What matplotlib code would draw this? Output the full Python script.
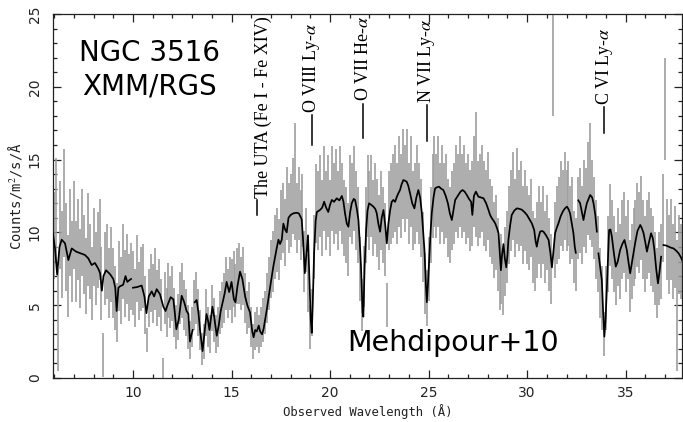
import numpy as np
import matplotlib
matplotlib.use('Agg')
import matplotlib.pyplot as plt
from matplotlib.ticker import MultipleLocator

plt.rcParams['mathtext.fontset'] = 'stix'

# ---------------- data ----------------
# observed spectrum, 0.1 A bins from 6.0 to 38.0 A
data_wl_start, data_wl_stop, data_wl_step = 6.0, 38.0, 0.1
data_flux = [
    9.8, 11.5, 4.0, 10.5, 8.5, 12.0, 9.0, 7.0, 10.0, 8.0,       # 6
    10.5, 8.0, 9.5, 7.5, 10.0, 8.5, 7.0, 9.5, 8.0, 6.5,         # 7
    9.0, 7.5, 8.8, 9.5, 6.5, 1.6, 7.5, 8.0, 6.5, 7.8,           # 8
    6.5, 5.5, 4.5, 7.0, 6.0, 8.0, 6.5, 7.5, 6.2, 7.0,           # 9
    6.5, 5.5, 7.5, 6.0, 6.8, 7.0, 5.0, 2.6, 5.5, 6.5,           # 10
    5.8, 6.8, 5.5, 6.2, 5.0, 0.7, 5.5, 4.5, 6.0, 5.2,           # 11
    5.8, 4.5, 3.5, 4.2, 5.5, 6.0, 5.0, 4.5, 3.5, 2.6,           # 12
    3.5, 5.0, 5.5, 4.5, 3.3, 2.0, 2.5, 4.5, 3.5, 3.0,           # 13
    4.8, 4.0, 3.0, 3.5, 4.5, 5.0, 5.5, 6.5, 5.8, 6.5,           # 14
    6.0, 6.8, 6.0, 7.0, 7.2, 6.5, 7.0, 5.5, 4.5, 5.0,           # 15
    3.5, 2.5, 3.2, 3.5, 3.0, 3.5, 4.0, 4.5, 5.5, 6.5,           # 16
    7.5, 8.0, 9.0, 9.5, 8.8, 10.5, 11.0, 10.0, 12.0, 11.0,      # 17
    11.5, 12.5, 13.5, 11.0, 12.0, 10.5, 11.5, 8.0, 9.5, 6.5,    # 18
    3.5, 4.5, 9.0, 12.0, 11.5, 12.5, 11.0, 13.0, 11.5, 12.5,    # 19
    11.0, 13.0, 12.0, 12.8, 11.5, 13.0, 12.0, 11.0, 10.5, 9.5,  # 20
    12.5, 12.0, 13.0, 11.5, 10.5, 7.5, 5.0, 7.0, 10.5, 12.5,    # 21
    11.5, 12.5, 11.0, 12.0, 11.0, 10.0, 11.5, 10.5, 9.5, 5.0,   # 22
    11.5, 12.0, 12.5, 13.0, 12.0, 13.5, 12.5, 14.0, 13.0, 14.0, # 23
    12.0, 13.5, 11.5, 12.0, 13.0, 12.0, 11.0, 9.0, 6.5, 5.5,    # 24
    7.5, 10.5, 12.5, 13.5, 12.5, 13.5, 12.0, 13.0, 12.0, 12.5,  # 25
    11.0, 10.5, 11.5, 12.0, 13.0, 12.5, 13.5, 12.5, 13.0, 12.0, # 26
    12.5, 11.5, 12.0, 13.5, 14.0, 12.0, 12.5, 13.0, 12.0, 11.5, # 27
    12.5, 11.0, 10.5, 9.5, 10.0, 8.5, 7.0, 7.5, 6.5, 8.0,       # 28
    9.0, 10.5, 11.5, 12.5, 11.0, 12.5, 11.5, 12.0, 10.5, 11.5,  # 29
    10.5, 10.0, 11.0, 9.0, 8.5, 9.5, 10.5, 9.5, 10.5, 9.0,      # 30
    10.0, 8.5, 7.5, 23.5, 9.5, 10.5, 11.0, 12.0, 11.5, 12.5,    # 31
    11.5, 12.0, 10.5, 11.0, 9.0, 8.5, 11.0, 11.5, 10.5, 12.0,   # 32
    11.5, 13.0, 13.5, 12.0, 11.0, 9.5, 8.5, 6.5, 5.5, 3.0,      # 33
    5.5, 8.5, 10.5, 9.5, 8.5, 7.5, 9.0, 8.0, 9.5, 10.0,         # 34
    8.5, 9.5, 7.0, 8.0, 9.0, 9.5, 10.5, 10.0, 11.0, 9.5,        # 35
    8.5, 9.5, 10.0, 9.0, 8.5, 7.5, 6.5, 7.5, 8.0, 11.0,         # 36
    18.5, 9.5, 8.5, 9.5, 8.0, 9.0, 5.0, 8.5, 8.0, 9.0,          # 37
    8.5,                                                        # 38
]
data_err = [
    3.0, 3.6, 3.5, 3.0, 3.0, 3.7, 3.0, 2.8, 3.0, 2.8,
    3.0, 2.8, 2.8, 2.7, 3.0, 2.7, 2.6, 3.2, 2.6, 2.5,
    2.7, 2.5, 2.6, 2.8, 2.5, 1.5, 2.5, 2.6, 2.4, 2.6,
    2.4, 2.2, 2.0, 2.4, 2.3, 2.6, 2.3, 2.4, 2.3, 2.3,
    2.2, 2.0, 2.3, 2.0, 2.2, 2.2, 2.0, 0.8, 2.0, 2.0,
    2.0, 2.1, 1.9, 2.0, 1.8, 0.7, 1.8, 1.7, 1.9, 1.8,
    1.9, 1.7, 1.5, 1.6, 1.8, 1.9, 1.7, 1.6, 1.5, 1.3,
    1.4, 1.7, 1.8, 1.6, 1.4, 1.1, 1.2, 1.6, 1.4, 1.3,
    1.6, 1.5, 1.3, 1.4, 1.5, 1.6, 1.7, 1.8, 1.7, 1.8,
    2.2, 1.9, 1.8, 1.9, 2.1, 1.8, 2.0, 1.7, 1.5, 1.6,
    1.4, 1.2, 1.3, 1.4, 1.3, 1.4, 1.5, 1.5, 1.7, 1.8,
    2.0, 2.1, 2.2, 2.2, 2.1, 2.4, 2.4, 2.3, 2.5, 2.4,
    2.5, 2.6, 4.0, 2.4, 2.5, 2.4, 2.5, 2.1, 2.2, 2.0,
    1.5, 1.6, 2.2, 2.7, 2.7, 2.8, 2.6, 2.9, 2.7, 2.8,
    2.6, 2.9, 2.8, 2.9, 2.7, 2.9, 2.8, 2.6, 2.6, 2.5,
    2.8, 2.8, 2.9, 2.7, 2.6, 2.2, 1.8, 2.1, 2.6, 2.8,
    2.7, 2.8, 2.6, 2.8, 2.7, 2.6, 2.7, 2.6, 2.5, 1.5,
    2.7, 2.8, 2.9, 3.0, 2.8, 3.1, 2.9, 3.1, 3.0, 3.1,
    2.8, 3.1, 2.7, 2.8, 3.0, 2.8, 2.7, 2.4, 2.1, 1.9,
    2.2, 2.6, 2.9, 3.1, 2.9, 3.1, 2.8, 3.0, 2.8, 2.9,
    2.7, 2.6, 2.7, 2.8, 3.0, 2.9, 3.1, 2.9, 3.0, 2.8,
    2.9, 2.8, 2.9, 3.1, 4.3, 2.9, 2.9, 3.0, 2.9, 2.8,
    3.0, 2.7, 2.7, 2.6, 2.6, 2.5, 2.3, 2.4, 2.2, 2.4,
    2.5, 2.7, 2.8, 3.0, 2.7, 3.3, 2.8, 2.9, 2.7, 2.8,
    2.7, 2.6, 2.7, 2.5, 2.5, 2.6, 2.7, 2.6, 2.7, 2.5,
    2.6, 2.5, 2.4, 5.5, 2.6, 2.7, 2.8, 2.9, 2.8, 3.0,
    2.8, 2.9, 2.7, 2.8, 2.5, 2.5, 2.8, 2.9, 2.7, 3.0,
    2.9, 3.2, 4.0, 3.0, 2.8, 2.7, 2.6, 2.4, 2.2, 1.5,
    2.2, 2.6, 2.8, 2.7, 2.6, 2.5, 2.7, 2.6, 2.7, 2.8,
    2.6, 2.7, 2.5, 2.6, 2.7, 2.7, 2.9, 2.8, 2.9, 2.7,
    2.6, 2.7, 2.8, 2.7, 2.6, 2.5, 2.4, 2.5, 2.6, 3.0,
    3.5, 2.8, 2.7, 2.8, 2.6, 2.8, 4.5, 2.7, 2.6, 2.8,
    2.7,
]

# best-fit model (None marks a gap in the model curve)
model_wl = [
    5.94, 6.05, 6.15, 6.27, 6.38, 6.55, 6.72, 6.89, 7.11, 7.35, 7.56, 7.73, 7.9, 8.07,
    8.24, 8.33, 8.42, 8.5, 8.63, 8.83, 9.0, 9.1, 9.17, 9.26, 9.34, 9.5, 9.62, 9.71,
    9.8, 9.9, None,
    10.0, 10.22, 10.44, 10.58, 10.68, 10.8, 10.95, 11.07, 11.2, 11.37, 11.54, 11.65,
    11.75, 11.91, 12.05, 12.12, 12.2, 12.32, 12.47, 12.6, 12.72, 12.81, 12.89, 12.97,
    13.03, None,
    13.13, 13.23, 13.32, 13.4, 13.53, 13.62, 13.73, 13.8, 13.88, 14.03, 14.12, 14.25,
    14.35, 14.45, 14.55, 14.65, 14.75, 14.88, 15.0, 15.12, 15.2, 15.3, 15.43, 15.55,
    15.69, 15.8, 15.94, 16.05, 16.12, 16.2, 16.28, 16.38, 16.45, 16.55, 16.63, 16.79,
    16.95, 17.12, 17.29, 17.38, 17.46, 17.55, 17.63, 17.72, 17.8, 17.89, 18.0, 18.14,
    18.3, 18.42, 18.56, 18.63, 18.72, 18.8, 18.88, 18.95, 19.02, 19.07, 19.12, 19.19,
    19.27, 19.33, 19.49, 19.6, 19.7, 19.8, 19.91, 20.0, 20.09, 20.2, 20.34, 20.47,
    20.6, 20.68, 20.76, 20.85, 20.93, 21.02, 21.1, 21.2, 21.27, 21.36, 21.44, 21.52,
    21.57, 21.65, 21.69, 21.75, 21.83, 21.9, 21.98, 22.08, 22.2, 22.3, 22.37, 22.45,
    22.54, 22.62, 22.71, 22.8, 22.88, 22.96, 23.05, 23.13, 23.21, 23.3, 23.39, 23.47,
    23.55, 23.63, 23.72, 23.8, 23.89, 23.97, 24.06, 24.17, 24.28, 24.38, 24.48, 24.57,
    24.66, 24.73, 24.79, 24.86, 24.91, 24.97, 25.03, 25.1, 25.16, 25.25, 25.33, 25.43,
    25.53, 25.64, 25.75, 25.87, 25.98, 26.08, 26.18, 26.27, 26.35, 26.43, 26.51, 26.62,
    26.72, 26.83, 26.94, 27.05, 27.16, 27.22, 27.3, 27.4, 27.53, 27.66, 27.79, 27.92,
    28.04, 28.12, 28.21, 28.3, 28.38, 28.47, 28.55, 28.62, 28.67, 28.73, 28.8, 28.87,
    28.94, 29.0, 29.05, 29.14, 29.22, 29.35, 29.48, 29.6, 29.73, 29.86, 29.99, 30.12,
    30.24, 30.36, 30.43, 30.49, 30.57, 30.66, 30.75, 30.83, 30.96, 31.09, 31.18, 31.26,
    31.34, 31.42, 31.5, 31.59, 31.7, 31.81, 31.92, 32.02, 32.1, 32.18, 32.27, 32.35,
    32.42, 32.47, None,
    32.6, 32.69, 32.78, 32.86, 32.95, 33.03, 33.2, 33.3, 33.37, 33.46, 33.54, None,
    33.62, 33.72, 33.79, 33.86, 33.92, 33.98, 34.05, 34.11, 34.16, 34.23, 34.3, 34.4,
    34.5, 34.6, 34.72, 34.83, 34.94, 35.06, 35.15, 35.23, 35.35, 35.48, 35.6, 35.74,
    35.82, 35.91, 36.0, 36.08, 36.18, 36.29, 36.38, 36.46, 36.55, 36.64, 36.72, 36.8,
    None,
    36.92, 37.05, 37.18, 37.3, 37.43, 37.56, 37.69, 37.8, 37.9,
]
model_flux = [
    9.9, 8.8, 7.1, 9.0, 9.5, 9.25, 8.1, 8.9, 8.68, 8.56, 8.45, 8.22, 7.76, 7.9,
    7.5, 7.2, 6.0, 7.0, 7.4, 7.14, 6.8, 6.2, 4.6, 6.2, 6.3, 6.4, 7.0, 6.6,
    6.7, 6.8, None,
    6.2, 6.25, 6.35, 5.6, 4.45, 5.6, 5.95, 5.6, 6.1, 5.75, 4.9, 4.6,
    5.0, 5.55, 5.4, 4.5, 3.35, 4.0, 5.65, 5.2, 4.6, 4.4, 2.5, 3.0,
    3.3, None,
    5.2, 5.36, 4.5, 3.3, 1.85, 3.0, 4.4, 4.0, 3.3, 4.9, 4.2, 2.9,
    3.6, 4.6, 5.2, 5.8, 6.6, 5.9, 6.6, 5.4, 5.2, 6.3, 7.3, 6.8,
    5.6, 5.0, 4.5, 3.2, 2.8, 3.3, 3.2, 3.6, 3.2, 3.0, 3.4, 4.7,
    6.16, 7.65, 8.9, 9.5, 9.2, 9.5, 10.6, 10.2, 10.0, 11.0, 11.2, 11.31,
    11.35, 11.3, 10.9, 9.5, 7.2, 8.5, 9.8, 7.0, 4.0, 3.1, 5.0, 8.6,
    10.8, 11.4, 11.54, 11.7, 12.11, 11.7, 11.4, 11.9, 12.23, 12.1, 12.34, 12.2,
    12.5, 12.1, 11.3, 10.6, 10.39, 11.4, 12.0, 12.3, 12.23, 11.6, 10.85, 9.0,
    7.65, 4.5, 4.21, 7.5, 10.16, 11.5, 12.0, 11.9, 11.77, 11.6, 11.31, 10.6,
    10.05, 11.0, 11.54, 10.5, 9.25, 10.6, 11.54, 12.1, 12.23, 12.1, 12.45, 12.7,
    12.91, 13.3, 13.6, 13.55, 13.48, 13.2, 12.68, 12.0, 11.65, 12.4, 12.91, 12.4,
    11.31, 10.0, 8.79, 6.5, 5.2, 6.5, 8.1, 10.0, 11.31, 12.4, 13.02, 13.1,
    13.14, 13.0, 12.91, 12.5, 12.0, 11.3, 10.85, 11.6, 12.23, 12.4, 12.57, 12.8,
    12.91, 12.8, 12.57, 12.3, 12.1, 11.2, 12.5, 12.8, 12.45, 12.4, 12.34, 12.0,
    11.54, 11.2, 10.97, 10.8, 10.62, 10.3, 9.94, 8.5, 7.4, 8.5, 9.2, 8.2,
    7.6, 8.4, 9.48, 10.5, 11.2, 11.5, 11.65, 11.62, 11.56, 11.4, 11.2, 10.9,
    10.62, 10.16, 9.4, 9.02, 9.6, 10.05, 10.1, 10.05, 9.8, 9.48, 8.6, 7.6,
    8.8, 9.94, 10.3, 10.62, 11.1, 11.43, 11.65, 11.77, 11.6, 11.31, 10.6, 9.94,
    9.0, 8.6, None,
    12.2, 12.0, 11.4, 10.85, 11.5, 12.0, 12.57, 12.4, 12.0, 11.2, 10.05, None,
    8.56, 7.5, 6.73, 4.5, 2.84, 4.0, 6.27, 8.5, 10.16, 10.2, 9.71, 8.6,
    7.65, 8.0, 8.79, 9.2, 9.48, 8.79, 7.9, 7.19, 8.2, 9.25, 10.1, 10.51,
    10.3, 9.94, 9.3, 8.68, 9.3, 9.94, 9.6, 8.79, 7.5, 6.5, 7.3, 8.33,
    None,
    9.13, 9.1, 9.02, 8.95, 8.9, 8.75, 8.56, 8.3, 8.0,
]

# line identifications: label, wavelength, marker bottom/top
line_labels = ['O VIII Ly-$\\alpha$', 'O VII He-$\\alpha$', 'N VII Ly-$\\alpha$', 'C VI Ly-$\\alpha$']
line_wl = [19.07, 21.69, 24.91, 33.91]
line_mark_lo = [16.0, 16.45, 16.25, 16.8]
line_mark_hi = [18.05, 18.85, 18.75, 18.6]
uta_label = 'The UTA (Fe I - Fe XIV)'

# ---------------- figure ----------------
W, H = 683, 422
fig = plt.figure(figsize=(W / 100, H / 100), dpi=100)
L, R, T, B = 53, 682, 14, 378
ax = fig.add_axes([L / W, 1 - B / H, (R - L) / W, (B - T) / H])

n = len(data_flux)
wl = data_wl_start + data_wl_step * np.arange(n)
flux = np.array(data_flux)
err = np.array(data_err)
ax.vlines(wl, flux - err, flux + err, color='#9e9e9e', lw=1.2, zorder=2)

mw = np.array([np.nan if v is None else v for v in model_wl], dtype=float)
mf = np.array([np.nan if v is None else v for v in model_flux], dtype=float)
ax.plot(mw, mf, color='black', lw=1.25, zorder=3)

ax.set_xlim(5.94, 37.86)
ax.set_ylim(0, 25)
ax.xaxis.set_major_locator(MultipleLocator(5))
ax.xaxis.set_minor_locator(MultipleLocator(1))
ax.yaxis.set_major_locator(MultipleLocator(5))
ax.yaxis.set_minor_locator(MultipleLocator(1))
ax.tick_params(which='both', direction='in', top=True, right=True, width=0.9,
               labelsize=10, colors='#222222')
ax.tick_params(which='major', length=6)
ax.tick_params(which='minor', length=3)
ax.tick_params(axis='x', pad=6)
ax.tick_params(axis='y', pad=8, labelrotation=90)
for lab in ax.get_yticklabels():
    lab.set_verticalalignment('center')
for s in ax.spines.values():
    s.set_linewidth(0.9)
    s.set_color('#222222')

fig.text(15 / W, 1 - 196 / H, 'Counts/m$^2$/s/Å', rotation=90, ha='center', va='center',
         family='DejaVu Sans Mono', fontsize=10, color='#222222')
fig.text(368 / W, 1 - 412 / H, 'Observed Wavelength (Å)', ha='center', va='center',
         family='DejaVu Sans Mono', fontsize=8.8, color='#222222')

serif = 'Liberation Serif'
for lab, x, lo, hi in zip(line_labels, line_wl, line_mark_lo, line_mark_hi):
    ax.plot([x, x], [lo, hi], color='black', lw=1.1)
    ax.text(x, hi + 0.15, lab, rotation=90, ha='center', va='bottom',
            family=serif, fontsize=13)
ax.plot([16.28, 16.28], [11.2, 12.25], color='black', lw=1.1)
ax.text(16.6, 12.35, uta_label, rotation=90, ha='center', va='bottom',
        family=serif, fontsize=13)

ax.text(10.86, 21.2, 'NGC 3516\nXMM/RGS', ha='center', va='center', fontsize=20,
        family='DejaVu Sans', linespacing=1.25)
ax.text(26.22, 2.4, 'Mehdipour+10', ha='center', va='center', fontsize=20.5,
        family='DejaVu Sans')

fig.savefig('out.png', dpi=100)
